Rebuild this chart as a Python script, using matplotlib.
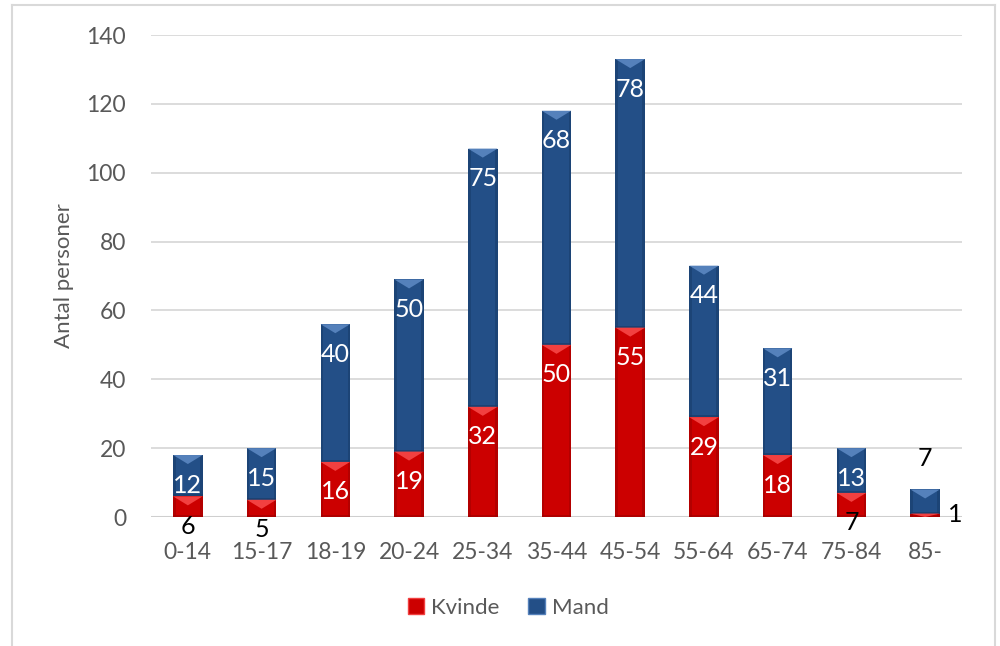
import matplotlib
matplotlib.use("Agg")
import matplotlib.pyplot as plt
from matplotlib.patches import Rectangle, Polygon, Patch
from matplotlib.lines import Line2D
import numpy as np

plt.rcParams['font.family'] = ['Lato', 'DejaVu Sans']

# data
alder = ["0-14", "15-17", "18-19", "20-24", "25-34", "35-44", "45-54",
         "55-64", "65-74", "75-84", "85-"]
kvinde = [6, 5, 16, 19, 32, 50, 55, 29, 18, 7, 1]
mand = [12, 15, 40, 50, 75, 68, 78, 44, 31, 13, 7]

rod = "#cc0000"
rod_lys = "#f24040"
rod_mork = "#9c0000"
bla = "#234f87"
bla_lys = "#5581bb"
bla_mork = "#173a66"
graa = "#595959"

fig = plt.figure(figsize=(10, 6.46), dpi=100)
ax = fig.add_axes([0.151, 1 - 517 / 646, 0.811, (517 - 35) / 646])

x = np.arange(len(alder))
bredde = 0.40
ax.set_xlim(-0.5, len(alder) - 0.5)
ax.set_ylim(0, 140)

# pixels -> data units
px_y = 140 / ax.get_window_extent().height
px_x = (len(alder)) / ax.get_window_extent().width


def bar_segment(xc, bund, hojde, farve, lys, mork):
    v = xc - bredde / 2
    h = xc + bredde / 2
    ax.add_patch(Rectangle((v, bund), bredde, hojde, facecolor=farve,
                           edgecolor="none", zorder=3))
    # side/bund bevel
    s = 2.5 * px_x
    ax.add_patch(Rectangle((v, bund), s, hojde, facecolor=mork,
                           edgecolor="none", alpha=0.5, zorder=3))
    ax.add_patch(Rectangle((h - s, bund), s, hojde, facecolor=mork,
                           edgecolor="none", alpha=0.5, zorder=3))
    ax.add_patch(Rectangle((v, bund), bredde, min(2 * px_y, hojde),
                           facecolor=mork, edgecolor="none", alpha=0.6, zorder=3))
    # top bevel
    th = min(9 * px_y, hojde)
    top = bund + hojde
    ax.add_patch(Polygon([(v, top), (h, top), (xc, top - th)], closed=True,
                         facecolor=lys, edgecolor="none", zorder=4))


for i in range(len(alder)):
    bar_segment(x[i], 0, kvinde[i], rod, rod_lys, rod_mork)
    bar_segment(x[i], kvinde[i], mand[i], bla, bla_lys, bla_mork)

# data labels (inside end)
for i in range(len(alder)):
    for bund, val in ((0, kvinde[i]), (kvinde[i], mand[i])):
        top = bund + val
        if alder[i] == "85-":
            continue
        inde = val / px_y > 35
        ax.annotate(str(val), xy=(x[i], top), xytext=(0, -30 * 0.72),
                    textcoords="offset points", ha="center", va="center",
                    fontsize=18, color="white" if inde else "black",
                    zorder=6, annotation_clip=False)

# 85- labels moved by hand
i = len(alder) - 1
ax.annotate(str(kvinde[i]), xy=(x[i] + bredde / 2, kvinde[i]),
            xytext=(15 * 0.72, -1 * 0.72), textcoords="offset points",
            ha="center", va="center", fontsize=18, color="black", zorder=6)
ax.annotate(str(mand[i]), xy=(x[i], kvinde[i] + mand[i]),
            xytext=(0, 31 * 0.72), textcoords="offset points",
            ha="center", va="center", fontsize=18, color="black", zorder=6)

ax.set_yticks(np.arange(0, 141, 20))
ax.yaxis.grid(True, color="#d9d9d9", linewidth=1.3, zorder=0)
ax.set_axisbelow(True)
ax.axhline(0, color="#cfcfcf", linewidth=2.2, zorder=2)
for s in ax.spines.values():
    s.set_visible(False)
ax.tick_params(axis="both", length=0, labelsize=16.5, labelcolor=graa)
ax.tick_params(axis="y", pad=18)
ax.tick_params(axis="x", pad=18)
ax.set_xticks(x)
ax.set_xticklabels(alder)
ax.set_ylabel("Antal personer", fontsize=16, color=graa, labelpad=9)

# legend
handles = [Patch(facecolor=rod, edgecolor=rod_lys, label="Kvinde"),
           Patch(facecolor=bla, edgecolor=bla_lys, label="Mand")]
fig.legend(handles=handles, loc="center", bbox_to_anchor=(0.508, 1 - 608 / 646),
           ncol=2, frameon=False, fontsize=16, handlelength=0.75,
           handleheight=0.75, handletextpad=0.3, columnspacing=1.3,
           labelcolor=graa)

# chart frame
ramme = dict(color="#d9d9d9", linewidth=1.5, transform=fig.transFigure)
fig.add_artist(Line2D([12 / 1000, 12 / 1000], [0, 1 - 5 / 646], **ramme))
fig.add_artist(Line2D([12 / 1000, 995 / 1000], [1 - 5 / 646, 1 - 5 / 646], **ramme))
fig.add_artist(Line2D([995 / 1000, 995 / 1000], [0, 1 - 5 / 646], **ramme))

fig.savefig("out.png", dpi=100)
